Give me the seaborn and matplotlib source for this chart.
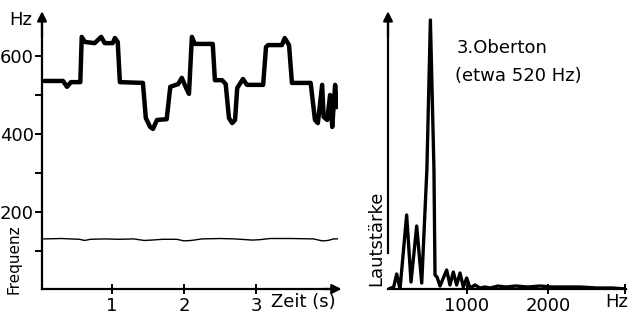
import matplotlib
matplotlib.use("Agg")
import matplotlib.pyplot as plt
import seaborn as sns
import pandas as pd

# ---- data ----
melody_t = [0.06, 0.32, 0.375, 0.43, 0.56, 0.58, 0.625, 0.76, 0.85, 0.90, 1.01, 1.04, 1.08,
            1.11, 1.43, 1.47, 1.53, 1.57, 1.625, 1.76, 1.81, 1.92, 1.97, 2.03, 2.07, 2.11,
            2.15, 2.40, 2.43, 2.53, 2.58, 2.625, 2.67, 2.71, 2.74, 2.82, 2.875, 3.10, 3.14,
            3.17, 3.36, 3.40, 3.46, 3.50, 3.76, 3.82, 3.86, 3.92, 3.94, 3.99, 4.03, 4.06,
            4.10, 4.125]
melody_hz = [536, 536, 521, 533, 533, 649, 636, 633, 649, 633, 633, 646, 636,
             533, 531, 441, 418, 413, 436, 438, 521, 528, 544, 518, 503, 649,
             631, 631, 538, 538, 528, 441, 428, 436, 518, 541, 526, 526, 623,
             628, 628, 646, 628, 531, 531, 436, 428, 526, 444, 436, 500, 418,
             526, 469]

fund_t = [0.05, 0.3, 0.55, 0.62, 0.7, 0.9, 1.1, 1.3, 1.45, 1.55, 1.7, 1.9, 2.0, 2.1,
          2.25, 2.5, 2.7, 2.95, 3.05, 3.2, 3.5, 3.8, 3.92, 4.0, 4.08, 4.17]
fund_hz = [131, 132, 130, 127, 130, 131, 130, 131, 127, 128, 130, 130, 126, 127,
           131, 132, 131, 128, 129, 132, 132, 131, 126, 127, 131, 131]

spec_hz = [30, 95, 132, 173, 255, 309, 379, 441, 505, 548, 592, 605, 630, 667, 749, 790,
           831, 872, 914, 954, 996, 1037, 1099, 1160, 1222, 1284, 1383, 1480, 1600, 1750,
           1900, 2050, 2200, 2400, 2600, 2800, 2960]
spec_amp = [0, 2, 15, 0, 74, 7, 63, 6, 120, 269, 120, 14, 12, 3, 19, 4,
            17, 4, 16, 2, 11, 1, 4, 1, 2, 1, 3, 2, 3, 2,
            3, 2, 2, 2, 1, 1, 0]

left_yticks = [200, 400, 600]
left_yminor = [100, 300, 500]
left_xticks = [1, 2, 3]
right_xticks = [1000, 2000]

# ---- style ----
sns.set_theme(style="white")
plt.rcParams["font.family"] = ["DejaVu Sans"]
plt.rcParams["text.color"] = "black"

W, H = 633, 320
fig = plt.figure(figsize=(W / 100, H / 100), dpi=100)

def fx(px):
    return px / W

def fy(py):
    return 1 - py / H

def axes_box(x0, y0, x1, y1):
    return [fx(x0), fy(y1), fx(x1) - fx(x0), fy(y0) - fy(y1)]

# left panel
ax1 = fig.add_axes(axes_box(42, 18, 338, 289))
mel = pd.DataFrame({"t": melody_t, "hz": melody_hz})
fun = pd.DataFrame({"t": fund_t, "hz": fund_hz})
sns.lineplot(data=mel, x="t", y="hz", ax=ax1, color="black", lw=3.2,
             sort=False, estimator=None, solid_joinstyle="round",
             solid_capstyle="round")
sns.lineplot(data=fun, x="t", y="hz", ax=ax1, color="black", lw=1.0,
             sort=False, estimator=None)
ax1.set_xlim(0.028, 4.14)
ax1.set_ylim((290 - 289) / 0.39, (290 - 18) / 0.39)

# right panel
ax2 = fig.add_axes(axes_box(388, 18, 626, 289))
spec = pd.DataFrame({"hz": spec_hz, "amp": spec_amp})
sns.lineplot(data=spec, x="hz", y="amp", ax=ax2, color="black", lw=2.4,
             sort=False, estimator=None, solid_joinstyle="round")
ax2.set_xlim((388 - 386) / 0.081, (626 - 386) / 0.081)
ax2.set_ylim(0, 271)

for ax in (ax1, ax2):
    ax.set_xlabel("")
    ax.set_ylabel("")
    ax.patch.set_alpha(0)
    for s in ("top", "right"):
        ax.spines[s].set_visible(False)
    for s in ("left", "bottom"):
        ax.spines[s].set_color("black")
        ax.spines[s].set_linewidth(1.6)
    # arrow heads on axes
    ax.annotate("", xy=(0, 1.025), xytext=(0, 0.93), xycoords="axes fraction",
                arrowprops=dict(arrowstyle="-|>", color="black", lw=1.6,
                                mutation_scale=14, shrinkA=0, shrinkB=0))

ax1.annotate("", xy=(1.012, 0), xytext=(0.95, 0), xycoords="axes fraction",
             arrowprops=dict(arrowstyle="-|>", color="black", lw=1.6,
                             mutation_scale=14, shrinkA=0, shrinkB=0))

ax1.set_yticks(left_yticks)
ax1.set_yticklabels([str(v) for v in left_yticks])
ax1.set_yticks(left_yminor, minor=True)
ax1.set_xticks(left_xticks)
ax1.set_xticklabels([str(v) for v in left_xticks])
ax1.tick_params(axis="y", which="both", left=True, direction="out", length=5,
                width=1.4, color="black", labelsize=13, pad=1, labelcolor="black")
ax1.tick_params(axis="x", bottom=True, direction="inout", length=7, width=1.4,
                color="black", labelsize=13, pad=2, labelcolor="black")

ax2.spines["left"].set_bounds(36, 271)
ax2.set_yticks([])
ax2.set_xticks(right_xticks + [2950])
ax2.set_xticklabels([f"{v}" for v in right_xticks] + [""])
ax2.tick_params(axis="x", bottom=True, direction="inout", length=7, width=1.4,
                color="black", labelsize=13, pad=2, labelcolor="black")

# texts
fig.text(fx(21), fy(20), "Hz", ha="center", va="center", fontsize=13, color="black")
fig.text(fx(14), fy(259), "Frequenz", ha="center", va="center", rotation=90,
         fontsize=11, color="black")
fig.text(fx(303), fy(302), "Zeit (s)", ha="center", va="center", fontsize=13, color="black")
fig.text(fx(376), fy(238), "Lautstärke", ha="center", va="center", rotation=90,
         fontsize=13, color="black")
fig.text(fx(617), fy(302), "Hz", ha="center", va="center", fontsize=13, color="black")
fig.text(fx(457), fy(48), "3.Oberton", ha="left", va="center", fontsize=13, color="black")
fig.text(fx(455), fy(76), "(etwa 520 Hz)", ha="left", va="center", fontsize=13, color="black")

fig.savefig("out.png", dpi=100, facecolor="white")
